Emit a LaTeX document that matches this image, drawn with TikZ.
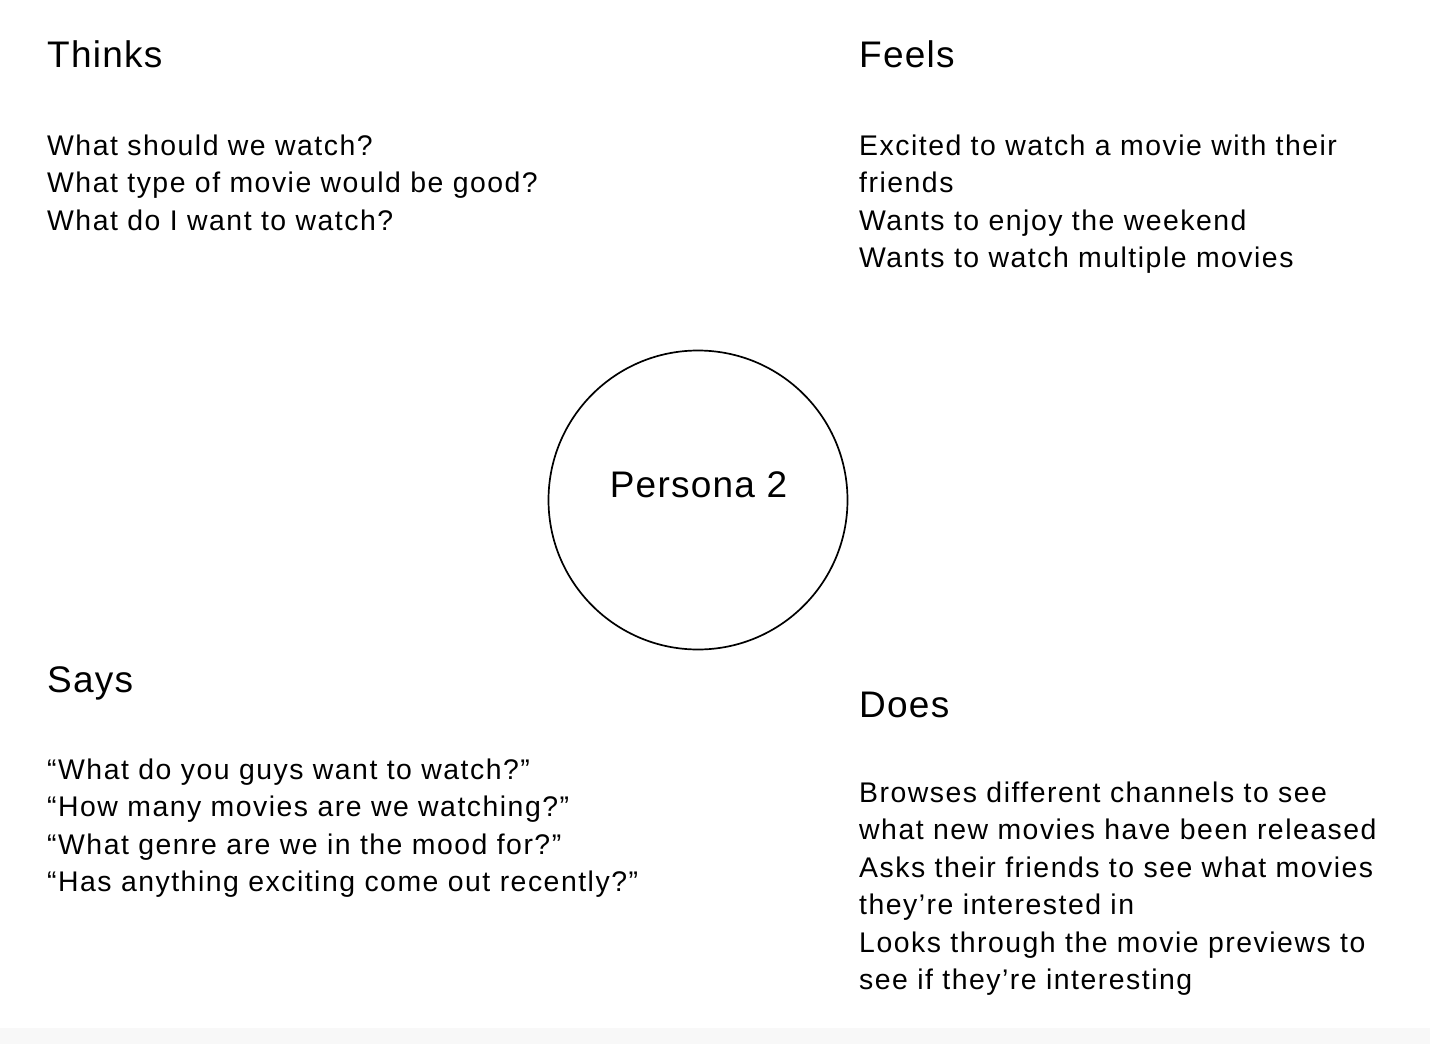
\documentclass[tikz,border=0pt]{standalone}
\usepackage{fontspec}
\setmainfont{Liberation Sans}
\newfontfamily\headfont[LetterSpace=3.4]{Liberation Sans}
\newfontfamily\bodyfont[LetterSpace=5.3]{Liberation Sans}
\definecolor{footstrip}{RGB}{248,248,248}
\begin{document}
\begin{tikzpicture}[x=1pt,y=-1pt,
  heading/.style={anchor=base west,inner sep=0pt,font=\headfont\fontsize{37}{44}\selectfont},
  % the base anchor of a multi-line block sits on its last line
  body/.style={anchor=base west,inner sep=0pt,align=left,font=\bodyfont\fontsize{28.4}{37.5}\selectfont},
  persona/.style={circle,draw,line width=1.7pt,minimum size=299pt,inner sep=0pt}]
  \useasboundingbox (0,0) rectangle (1430,1044);
  \fill[white] (0,0) rectangle (1430,1044);
  \fill[footstrip] (0,1028) rectangle (1430,1044);

  % centre persona
  \node[persona] (p) at (698,500) {};
  \node[anchor=base,inner sep=0pt,font=\headfont\fontsize{37}{44}\selectfont] (plabel) at (698.5,497) {Persona 2};

  % Thinks
  \node[heading] (thinksH) at (47,67) {Thinks};
  \node[body] (thinks) at (47,230) {What should we watch?\\
    What type of movie would be good?\\
    What do I want to watch?};

  % Feels
  \node[heading] (feelsH) at (859,67) {Feels};
  \node[body] (feels) at (859,267.5) {Excited to watch a movie with their\\
    friends\\
    Wants to enjoy the weekend\\
    Wants to watch multiple movies};

  % Says
  \node[heading] (saysH) at (47,692) {Says};
  \node[body] (says) at (47,891.5) {“What do you guys want to watch?”\\
    “How many movies are we watching?”\\
    “What genre are we in the mood for?”\\
    “Has anything exciting come out recently?”};

  % Does
  \node[heading] (doesH) at (859,717) {Does};
  \node[body] (does) at (859,989.5) {Browses different channels to see\\
    what new movies have been released\\
    Asks their friends to see what movies\\
    they’re interested in\\
    Looks through the movie previews to\\
    see if they’re interesting};
\end{tikzpicture}
\end{document}
